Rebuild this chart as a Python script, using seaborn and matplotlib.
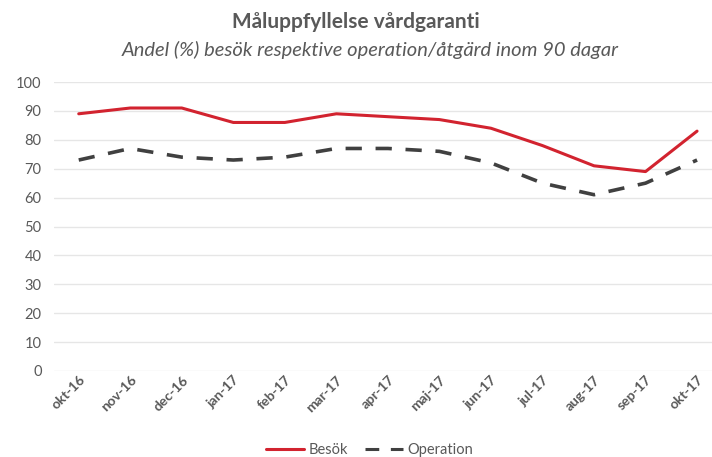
import numpy as np
import pandas as pd
import matplotlib.pyplot as plt
import seaborn as sns

# Data
months = ["okt-16", "nov-16", "dec-16", "jan-17", "feb-17", "mar-17", "apr-17",
          "maj-17", "jun-17", "jul-17", "aug-17", "sep-17", "okt-17"]
besok = [89, 91, 91, 86, 86, 89, 88, 87, 84, 78, 71, 69, 83]
operation = [73, 77, 74, 73, 74, 77, 77, 76, 72, 65, 61, 65, 73]

df = pd.DataFrame({"month": months, "Besök": besok, "Operation": operation})
long_df = df.melt(id_vars="month", var_name="serie", value_name="andel")

sns.set_style("white")
plt.rcParams["font.family"] = ["Lato", "DejaVu Sans"]

fig = plt.figure(figsize=(7.12, 4.57), dpi=100)
ax = fig.add_axes([54 / 712, 1 - 371 / 457, 658 / 712, 289 / 457])

sns.lineplot(
    data=long_df, x="month", y="andel", hue="serie", style="serie",
    palette={"Besök": "#d2232f", "Operation": "#404040"},
    dashes={"Besök": "", "Operation": (4.5, 3.8)},
    linewidth=2.2, ax=ax, sort=False,
)
# slightly thicker dashed line, as in the reference
ax.lines[1].set_linewidth(2.6)

ax.set_ylim(0, 100)
ax.set_yticks(range(0, 101, 10))
ax.set_xlim(-0.48, 12.29)
ax.grid(axis="y", color="#e6e6e6", linewidth=1)
for s in ax.spines.values():
    s.set_visible(False)
ax.set_xlabel("")
ax.set_ylabel("")
ax.tick_params(axis="y", labelsize=10.5, colors="#595959", length=0, pad=9)
ax.tick_params(axis="x", labelsize=10, colors="#595959", length=0, pad=2)
for lbl in ax.get_xticklabels():
    lbl.set_rotation(45)
    lbl.set_ha("right")
    lbl.set_rotation_mode("anchor")
    lbl.set_fontweight("bold")

handles, labels = ax.get_legend_handles_labels()
ax.legend(handles, labels, loc="center", bbox_to_anchor=(0.48, -0.275),
          ncol=2, frameon=False, fontsize=10.5, labelcolor="#595959",
          handlelength=2.6, columnspacing=1.2, handletextpad=0.3)

fig.text(0.5, 1 - 22 / 457, "Måluppfyllelse vårdgaranti", ha="center", va="center",
         fontsize=15, fontweight="bold", color="#595959")
fig.text(0.52, 1 - 50 / 457, "Andel (%) besök respektive operation/åtgärd inom 90 dagar",
         ha="center", va="center", fontsize=14.5, style="italic", color="#595959")

fig.savefig("out.png", dpi=100)
